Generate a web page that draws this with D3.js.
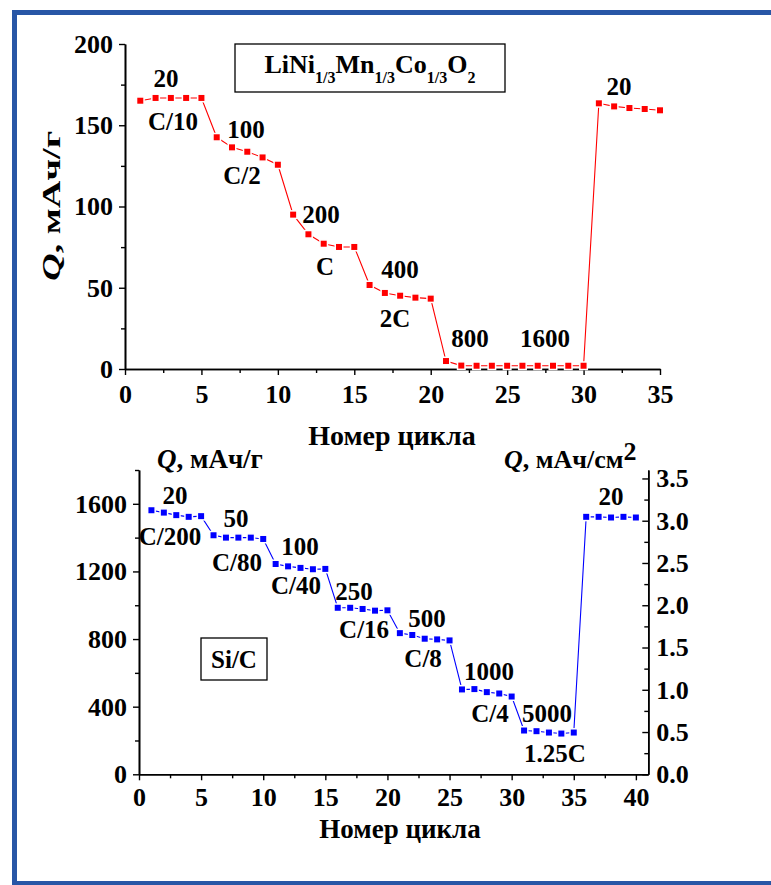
<!DOCTYPE html>
<html>
<head>
<meta charset="utf-8">
<script src="https://cdn.jsdelivr.net/npm/d3@7"></script>
<style>
  html, body { margin: 0; padding: 0; background: #fff; }
  svg { display: block; }
  text { font-family: "Liberation Serif", "Times New Roman", serif; font-weight: bold; fill: #000; }
</style>
</head>
<body>
<svg id="chart" width="771" height="885"></svg>
<script>
// ---------------- DATA ----------------
const cyclesTop = [1,2,3,4,5,6,7,8,9,10,11,12,13,14,15,16,17,18,19,20,21,22,23,24,25,26,27,28,29,30,31,32,33,34,35];
const capacityTop = [165.1,166.8,166.8,166.8,166.8,142.6,136.4,133.7,130.2,125.7,95.0,82.9,77.1,75.1,75.1,51.7,46.8,45.1,43.9,43.3,4.9,2.1,2.0,2.0,2.0,2.0,2.0,2.0,2.0,2.0,163.5,161.6,160.6,160.0,159.2];

const cyclesBottom = [1,2,3,4,5,6,7,8,9,10,11,12,13,14,15,16,17,18,19,20,21,22,23,24,25,26,27,28,29,30,31,32,33,34,35,36,37,38,39,40];
const capacityBottom = [1562,1548,1533,1523,1527,1414,1400,1400,1400,1392,1244,1230,1221,1213,1215,985,985,978,968,970,835,824,802,798,792,502,504,486,478,460,259,255,247,241,247,1523,1523,1519,1523,1519];

// annotation labels (text, cycle, capacity) anchored in data space
const labelsTopText  = ["20","C/10","100","C/2","200","C","400","2C","800","1600","20"];
const labelsTopX     = [2.68,3.14,7.92,7.65,12.82,13.08,17.99,17.66,22.57,27.48,32.32];
const labelsTopY     = [173.5,147,142.2,113.8,90,57.8,56,25.8,13.5,13.5,168.6];

const labelsBotText  = ["20","C/200","50","C/80","100","C/40","250","C/16","500","C/8","1000","C/4","5000","1.25C","20"];
const labelsBotX     = [2.9,2.5,7.81,7.89,12.96,12.64,17.31,18.12,23.19,22.87,28.18,28.26,32.85,33.49,38.0];
const labelsBotY     = [1599,1356,1463,1203,1297,1066,1031,806,871,635,558,309,309,73,1593];

const xTicksTop = [0,5,10,15,20,25,30,35];
const xMinorTop = [2.5,7.5,12.5,17.5,22.5,27.5,32.5];
const yTicksTop = [0,50,100,150,200];
const yMinorTop = [25,75,125,175];

const xTicksBot = [0,5,10,15,20,25,30,35,40];
const xMinorBot = [2.5,7.5,12.5,17.5,22.5,27.5,32.5,37.5];
const yTicksBot = [0,400,800,1200,1600];
const yMinorBot = [200,600,1000,1400,1800];
const yTicksRight = [0,0.5,1.0,1.5,2.0,2.5,3.0,3.5];
const yMinorRight = [0.25,0.75,1.25,1.75,2.25,2.75,3.25];

// ---------------- DRAW ----------------
const svg = d3.select("#chart");

// blue frame
svg.append("rect")
  .attr("x", 14.5).attr("y", 12.5).attr("width", 800).attr("height", 871)
  .attr("fill", "none").attr("stroke", "#2856a6").attr("stroke-width", 5);

function styleAxis(g, fs) {
  g.attr("font-family", null).attr("font-size", null);
  g.select(".domain").attr("stroke", "#000").attr("stroke-width", 1.6);
  g.selectAll(".tick line").attr("stroke", "#000").attr("stroke-width", 1.4);
  g.selectAll(".tick text")
    .style("font-family", '"Liberation Serif","Times New Roman",serif')
    .style("font-weight", "bold").style("font-size", fs + "px").attr("fill", "#000");
}

function drawSeries(g, xs, ys, x, y, color) {
  const pts = xs.map((c, i) => [c, ys[i]]);
  g.append("path").datum(pts)
    .attr("fill", "none").attr("stroke", color).attr("stroke-width", 1.1)
    .attr("d", d3.line().x(d => x(d[0])).y(d => y(d[1])));
  const s = 7.5;
  g.selectAll("rect.m").data(pts).join("rect").attr("class", "m")
    .attr("x", d => x(d[0]) - s / 2).attr("y", d => y(d[1]) - s / 2)
    .attr("width", s).attr("height", s)
    .attr("fill", color).attr("stroke", "#fff").attr("stroke-width", 1.5);
}

function drawLabels(g, texts, xs, ys, x, y, fs) {
  g.selectAll("text.lbl").data(texts).join("text").attr("class", "lbl")
    .attr("x", (d, i) => x(xs[i])).attr("y", (d, i) => y(ys[i]))
    .attr("text-anchor", "middle").style("font-size", fs + "px").text(d => d);
}

const intFmt = d3.format("d");

// ======== TOP CHART ========
const xT = d3.scaleLinear().domain([0, 35]).range([125, 660]);
const yT = d3.scaleLinear().domain([0, 200]).range([369, 44]);
const topG = svg.append("g");

topG.append("g").attr("transform", "translate(0,369)")
  .call(d3.axisBottom(xT).tickValues(xMinorTop).tickSize(4).tickFormat("").tickSizeOuter(0))
  .call(g => styleAxis(g, 26));
topG.append("g").attr("transform", "translate(0,369)")
  .call(d3.axisBottom(xT).tickValues(xTicksTop).tickSize(6).tickPadding(9.5).tickFormat(intFmt).tickSizeOuter(0))
  .call(g => styleAxis(g, 26));
topG.append("g").attr("transform", "translate(125,0)")
  .call(d3.axisLeft(yT).tickValues(yMinorTop).tickSize(4).tickFormat("").tickSizeOuter(0))
  .call(g => styleAxis(g, 26));
topG.append("g").attr("transform", "translate(125,0)")
  .call(d3.axisLeft(yT).tickValues(yTicksTop).tickSize(6).tickPadding(6).tickFormat(intFmt).tickSizeOuter(0))
  .call(g => styleAxis(g, 26));

drawSeries(topG, cyclesTop, capacityTop, xT, yT, "#ff0000");
drawLabels(topG, labelsTopText, labelsTopX, labelsTopY, xT, yT, 25);

// axis titles
topG.append("text").attr("x", 392).attr("y", 445).attr("text-anchor", "middle")
  .style("font-size", "28px").text("Номер цикла");
const yTitle = topG.append("text").attr("transform", "translate(60,206) rotate(-90)")
  .attr("text-anchor", "middle").style("font-size", "25px")
  .attr("textLength", 150).attr("lengthAdjust", "spacingAndGlyphs");
yTitle.append("tspan").style("font-style", "italic").text("Q");
yTitle.append("tspan").text(", мАч/г");

// formula box
topG.append("rect").attr("x", 235).attr("y", 44).attr("width", 270).attr("height", 48)
  .attr("fill", "#fff").attr("stroke", "#000").attr("stroke-width", 1.3);
const f = topG.append("text").attr("x", 370).attr("y", 73).attr("text-anchor", "middle").style("font-size", "26px");
const parts = [["LiNi",0],["1/3",1],["Mn",0],["1/3",1],["Co",0],["1/3",1],["O",0],["2",1]];
let cur = 0;
parts.forEach(([t, sub]) => {
  const target = sub ? 10 : 0;
  f.append("tspan").attr("dy", target - cur).style("font-size", sub ? "16px" : "26px").text(t);
  cur = target;
});

// ======== BOTTOM CHART ========
const xB = d3.scaleLinear().domain([0, 41]).range([139, 648.3]);
const yB = d3.scaleLinear().domain([0, 1800]).range([774.3, 470]);
const yR = d3.scaleLinear().domain([0, 3.6]).range([774.3, 470]);
const botG = svg.append("g");

botG.append("g").attr("transform", "translate(0,774.3)")
  .call(d3.axisBottom(xB).tickValues(xMinorBot).tickSize(4).tickFormat("").tickSizeOuter(0))
  .call(g => styleAxis(g, 26));
botG.append("g").attr("transform", "translate(0,774.3)")
  .call(d3.axisBottom(xB).tickValues(xTicksBot).tickSize(6).tickPadding(7).tickFormat(intFmt).tickSizeOuter(0))
  .call(g => styleAxis(g, 26));
botG.append("g").attr("transform", "translate(139,0)")
  .call(d3.axisLeft(yB).tickValues(yMinorBot).tickSize(4).tickFormat("").tickSizeOuter(0))
  .call(g => styleAxis(g, 26));
botG.append("g").attr("transform", "translate(139,0)")
  .call(d3.axisLeft(yB).tickValues(yTicksBot).tickSize(6).tickPadding(6).tickFormat(intFmt).tickSizeOuter(0))
  .call(g => styleAxis(g, 26));
botG.append("g").attr("transform", "translate(648.3,0)")
  .call(d3.axisRight(yR).tickValues(yMinorRight).tickSize(-4).tickFormat("").tickSizeOuter(0))
  .call(g => styleAxis(g, 26));
botG.append("g").attr("transform", "translate(648.3,0)")
  .call(d3.axisRight(yR).tickValues(yTicksRight).tickSize(-6).tickPadding(8).tickFormat(d3.format(".1f")).tickSizeOuter(0))
  .call(g => styleAxis(g, 26));

drawSeries(botG, cyclesBottom, capacityBottom, xB, yB, "#0000ff");
drawLabels(botG, labelsBotText, labelsBotX, labelsBotY, xB, yB, 25);

botG.append("text").attr("x", 400).attr("y", 838).attr("text-anchor", "middle")
  .style("font-size", "27px").text("Номер цикла");
const lt = botG.append("text").attr("x", 157).attr("y", 468).style("font-size", "27px");
lt.append("tspan").style("font-style", "italic").text("Q");
lt.append("tspan").text(", мАч/г");
const rt = botG.append("text").attr("x", 504).attr("y", 468).style("font-size", "26px");
rt.append("tspan").style("font-style", "italic").text("Q");
rt.append("tspan").text(", мАч/см");
rt.append("tspan").attr("dy", -8).text("2");

// Si/C box
botG.append("rect").attr("x", 201).attr("y", 638).attr("width", 66).attr("height", 42)
  .attr("fill", "#fff").attr("stroke", "#000").attr("stroke-width", 1.3);
botG.append("text").attr("x", 234).attr("y", 668).attr("text-anchor", "middle")
  .style("font-size", "25px").text("Si/C");
</script>
</body>
</html>
